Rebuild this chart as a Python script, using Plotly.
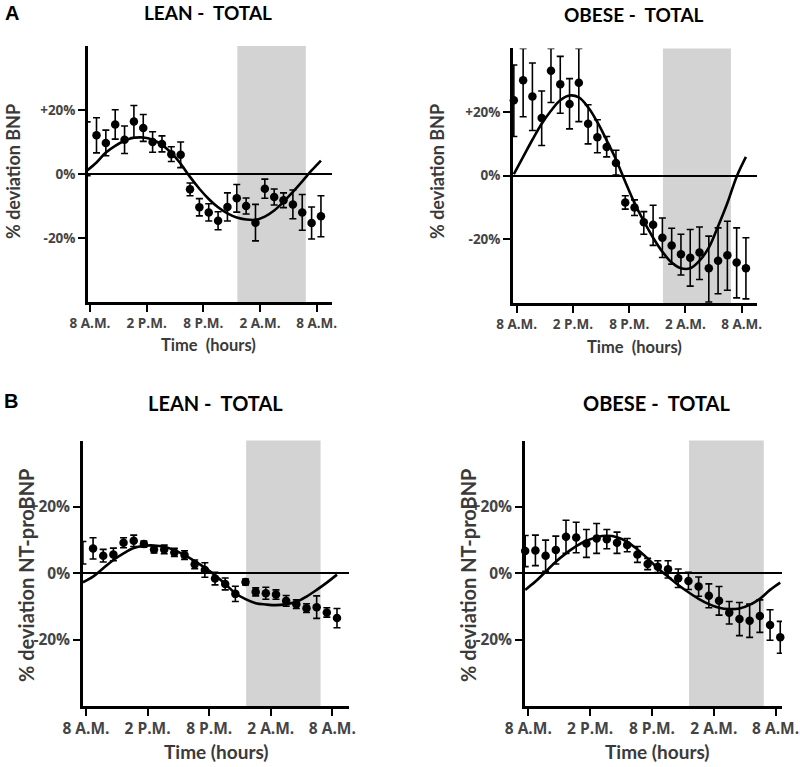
import plotly.graph_objects as go

# ---------------- data ----------------
hours = [-0.3, 0.69, 1.68, 2.67, 3.66, 4.65, 5.64, 6.63, 7.62, 8.61, 9.6, 10.59, 11.58,
         12.57, 13.56, 14.55, 15.54, 16.53, 17.52, 18.51, 19.5, 20.49, 21.48, 22.47, 23.46, 24.45]

night_start = 15.6   # hours after 8 A.M.
night_end = 22.85

tick_hours = [0, 6, 12, 18, 24]
tick_labels = ["8 A.M.", "2 P.M.", "8 P.M.", "2 A.M.", "8 A.M."]
pct_vals = [-20, 0, 20]
pct_labels = ["-20%", "0%", "+20%"]

# A - BNP, lean
leanA_val = [7.9, 12.1, 9.7, 15.5, 10.7, 16.4, 14.4, 10.0, 9.4, 6.2, 6.0, -4.8, -10.4,
             -12.0, -14.6, -10.3, -7.6, -10.0, -15.2, -4.6, -7.2, -8.2, -9.5, -12.0, -15.3, -13.2]
leanA_err = [8.4, 5.5, 4.0, 4.6, 4.3, 5.0, 4.2, 3.2, 2.5, 2.3, 4.0, 2.0, 2.7,
             2.7, 2.8, 4.4, 4.3, 2.5, 5.7, 3.0, 2.5, 2.3, 4.5, 5.6, 5.0, 6.4]
leanA_fit = [1.1, 3.6, 6.7, 8.8, 10.4, 11.3, 11.4, 10.7, 9.1, 6.6, 3.2, -0.9, -4.6,
             -7.8, -10.4, -12.3, -13.6, -14.2, -14.3, -13.3, -11.4, -8.7, -5.6, -2.3, 1.1, 4.2]

# A - BNP, obese
obeseA_val = [23.7, 30.0, 24.9, 18.1, 33.0, 28.7, 22.5, 29.2, 16.3, 12.1, 9.0, 4.0, -8.4,
              -10.0, -14.6, -15.4, -19.5, -21.9, -24.7, -25.8, -24.1, -29.1, -26.7, -25.0, -27.3, -29.1]
obeseA_err_up = [11.1, 10.0, 10.5, 8.5, 7.0, 8.8, 8.0, 10.8, 6.0, 5.5, 3.3, 4.0, 2.1,
                 2.4, 3.3, 6.1, 6.2, 5.4, 6.3, 8.9, 8.0, 10.1, 10.3, 10.7, 10.9, 9.6]
obeseA_err_down = [11.4, 11.5, 10.7, 8.6, 10.0, 9.1, 7.8, 12.2, 6.3, 4.9, 3.1, 3.8, 2.1,
                   2.5, 3.8, 6.5, 6.2, 5.9, 6.5, 8.9, 8.5, 10.6, 10.4, 11.0, 11.1, 9.6]
obeseA_fit = [0.5, 5.9, 11.3, 16.3, 20.4, 23.7, 25.2, 24.6, 21.5, 16.8, 11.1, 5.1, -1.9,
              -8.6, -14.3, -19.5, -23.9, -27.3, -29.1, -29.1, -26.7, -22.6, -15.9, -8.6, -0.3, 5.9]

# B - NT-proBNP, lean
leanB_val = [6.2, 7.5, 5.3, 5.7, 9.2, 9.8, 8.8, 7.2, 7.2, 6.3, 5.5, 2.7, 1.0,
             -1.6, -3.2, -6.2, -2.6, -5.6, -6.0, -6.4, -8.3, -9.3, -10.5, -10.2, -11.8, -13.5]
leanB_err = [3.4, 3.2, 1.9, 1.9, 1.5, 1.7, 0.9, 1.1, 1.3, 1.2, 1.3, 1.3, 2.2,
             1.9, 1.8, 2.3, 0.9, 1.2, 1.8, 1.4, 1.6, 1.3, 1.3, 3.4, 1.4, 2.9]
leanB_fit = [-2.7, -1.0, 1.5, 4.0, 6.0, 7.6, 8.3, 8.4, 8.0, 7.0, 5.5, 3.7, 1.7,
             -0.6, -3.2, -6.0, -7.8, -9.0, -9.4, -9.6, -9.3, -8.6, -7.0, -5.0, -2.8, -0.4]

# B - NT-proBNP, obese
obeseB_val = [6.7, 6.9, 5.3, 7.0, 11.0, 10.8, 9.0, 10.5, 10.3, 9.2, 8.5, 5.7, 2.8,
              2.0, 1.2, -1.5, -2.3, -4.0, -6.8, -8.3, -11.9, -13.8, -14.3, -12.9, -15.6, -19.3]
obeseB_err = [4.7, 4.6, 4.7, 4.2, 5.0, 4.6, 4.2, 4.5, 2.9, 3.2, 2.0, 2.4, 1.7,
              1.8, 2.6, 2.8, 2.6, 2.9, 3.6, 4.3, 3.4, 5.0, 5.0, 4.9, 4.6, 4.8]
obeseB_fit = [-5.0, -2.5, 0.5, 3.5, 6.0, 8.2, 9.8, 10.9, 11.3, 10.9, 9.5, 7.2, 4.5,
              1.5, -1.0, -3.5, -5.7, -7.7, -9.3, -10.4, -10.8, -10.6, -9.5, -7.7, -5.0, -2.8]

# ---------------- figure ----------------
W, H = 800, 767
FONT = "Lato"
TICKFONT = "Open Sans"
TXT = "#3a3a3a"

fig = go.Figure()

panels = [
    ("x", "y", leanA_val, leanA_err, leanA_err, leanA_fit),
    ("x2", "y2", obeseA_val, obeseA_err_up, obeseA_err_down, obeseA_fit),
    ("x3", "y3", leanB_val, leanB_err, leanB_err, leanB_fit),
    ("x4", "y4", obeseB_val, obeseB_err, obeseB_err, obeseB_fit),
]

for xa, ya, vals, eu, ed, fit in panels:
    fig.add_trace(go.Scatter(
        x=hours, y=fit, mode="lines", xaxis=xa, yaxis=ya,
        line=dict(color="black", width=2.6, shape="spline", smoothing=1.0),
        hoverinfo="skip", showlegend=False, cliponaxis=True))
    fig.add_trace(go.Scatter(
        x=hours, y=vals, mode="markers", xaxis=xa, yaxis=ya,
        marker=dict(color="black", size=8.5),
        error_y=dict(type="data", symmetric=False, array=eu, arrayminus=ed,
                     color="black", thickness=1.6, width=3.5),
        showlegend=False, cliponaxis=False))

def px_x(a, b):
    return [a / W, b / W]

def px_y(top, bottom):
    return [1 - bottom / H, 1 - top / H]

axis_specs = [
    dict(xd=px_x(88, 332), xr=[-0.21, 25.62], yd=px_y(46, 302), fs=13.5),
    dict(xd=px_x(513, 757), xr=[-0.39, 25.63], yd=px_y(48.4, 303), fs=13.5),
    dict(xd=px_x(83, 349), xr=[-0.29, 25.62], yd=px_y(440.6, 706), fs=15.5),
    dict(xd=px_x(525, 782), xr=[-0.32, 24.62], yd=px_y(440.6, 706), fs=15.5),
]

names = ["", "2", "3", "4"]
for n, spec in zip(names, axis_specs):
    tf = dict(family=TICKFONT, size=spec["fs"], color="#444", weight="bold")
    fig.update_layout(**{
        "xaxis" + n: dict(
            domain=spec["xd"], range=spec["xr"], anchor="y" + n, automargin=False,
            showline=True, linecolor="black", linewidth=2.6,
            ticks="outside", ticklen=7, tickwidth=2.2, tickcolor="black",
            tickvals=tick_hours, ticktext=tick_labels, tickfont=tf,
            showgrid=False, zeroline=False, fixedrange=True),
        "yaxis" + n: dict(
            domain=spec["yd"], range=[-40, 40], anchor="x" + n, automargin=False,
            showline=True, linecolor="black", linewidth=2.6,
            ticks="outside", ticklen=7, tickwidth=2.2, tickcolor="black",
            tickvals=pct_vals, ticktext=pct_labels, tickfont=tf,
            showgrid=False, zeroline=True, zerolinecolor="black", zerolinewidth=1.6,
            fixedrange=True),
    })
    fig.add_shape(type="rect", xref="x" + n, yref="y" + n + " domain",
                  x0=night_start, x1=night_end, y0=0, y1=1,
                  fillcolor="#d3d3d3", line=dict(width=0), layer="below")

NB = "\u00a0"

def ann(text, px, py, size, color="black", angle=0, family=FONT):
    fig.add_annotation(text=text, x=px / W, y=1 - py / H, xref="paper", yref="paper",
                       showarrow=False, textangle=angle, xanchor="center", yanchor="middle",
                       font=dict(family=family, size=size, color=color, weight="bold"))

ann("A", 12, 13, 20, family="Liberation Sans")
ann("B", 11, 401, 20, family="Liberation Sans")

ann("LEAN -" + NB + " TOTAL", 208, 13, 19)
ann("OBESE -" + NB + " TOTAL", 634, 14, 19)
ann("LEAN -" + NB + " TOTAL", 215, 403, 20)
ann("OBESE -" + NB + " TOTAL", 656, 403, 20)

ann("% deviation BNP", 13, 172, 18, color=TXT, angle=-90)
ann("% deviation BNP", 437, 172, 18, color=TXT, angle=-90)
ann("% deviation NT-proBNP", 26, 575, 20, color=TXT, angle=-90)
ann("% deviation NT-proBNP", 468, 575, 20, color=TXT, angle=-90)

ann("Time " + NB + "(hours)", 208, 345, 16.5, color=TXT)
ann("Time " + NB + "(hours)", 634, 347, 16.5, color=TXT)
ann("Time (hours)", 216, 751, 19, color=TXT)
ann("Time (hours)", 657, 751, 19, color=TXT)

fig.update_layout(width=W, height=H, autosize=False,
                  margin=dict(l=0, r=0, t=0, b=0, pad=0, autoexpand=False),
                  paper_bgcolor="white", plot_bgcolor="white",
                  showlegend=False)

fig.write_html("out.html", config={"displayModeBar": False},
               post_script="document.body.style.margin='0';")
